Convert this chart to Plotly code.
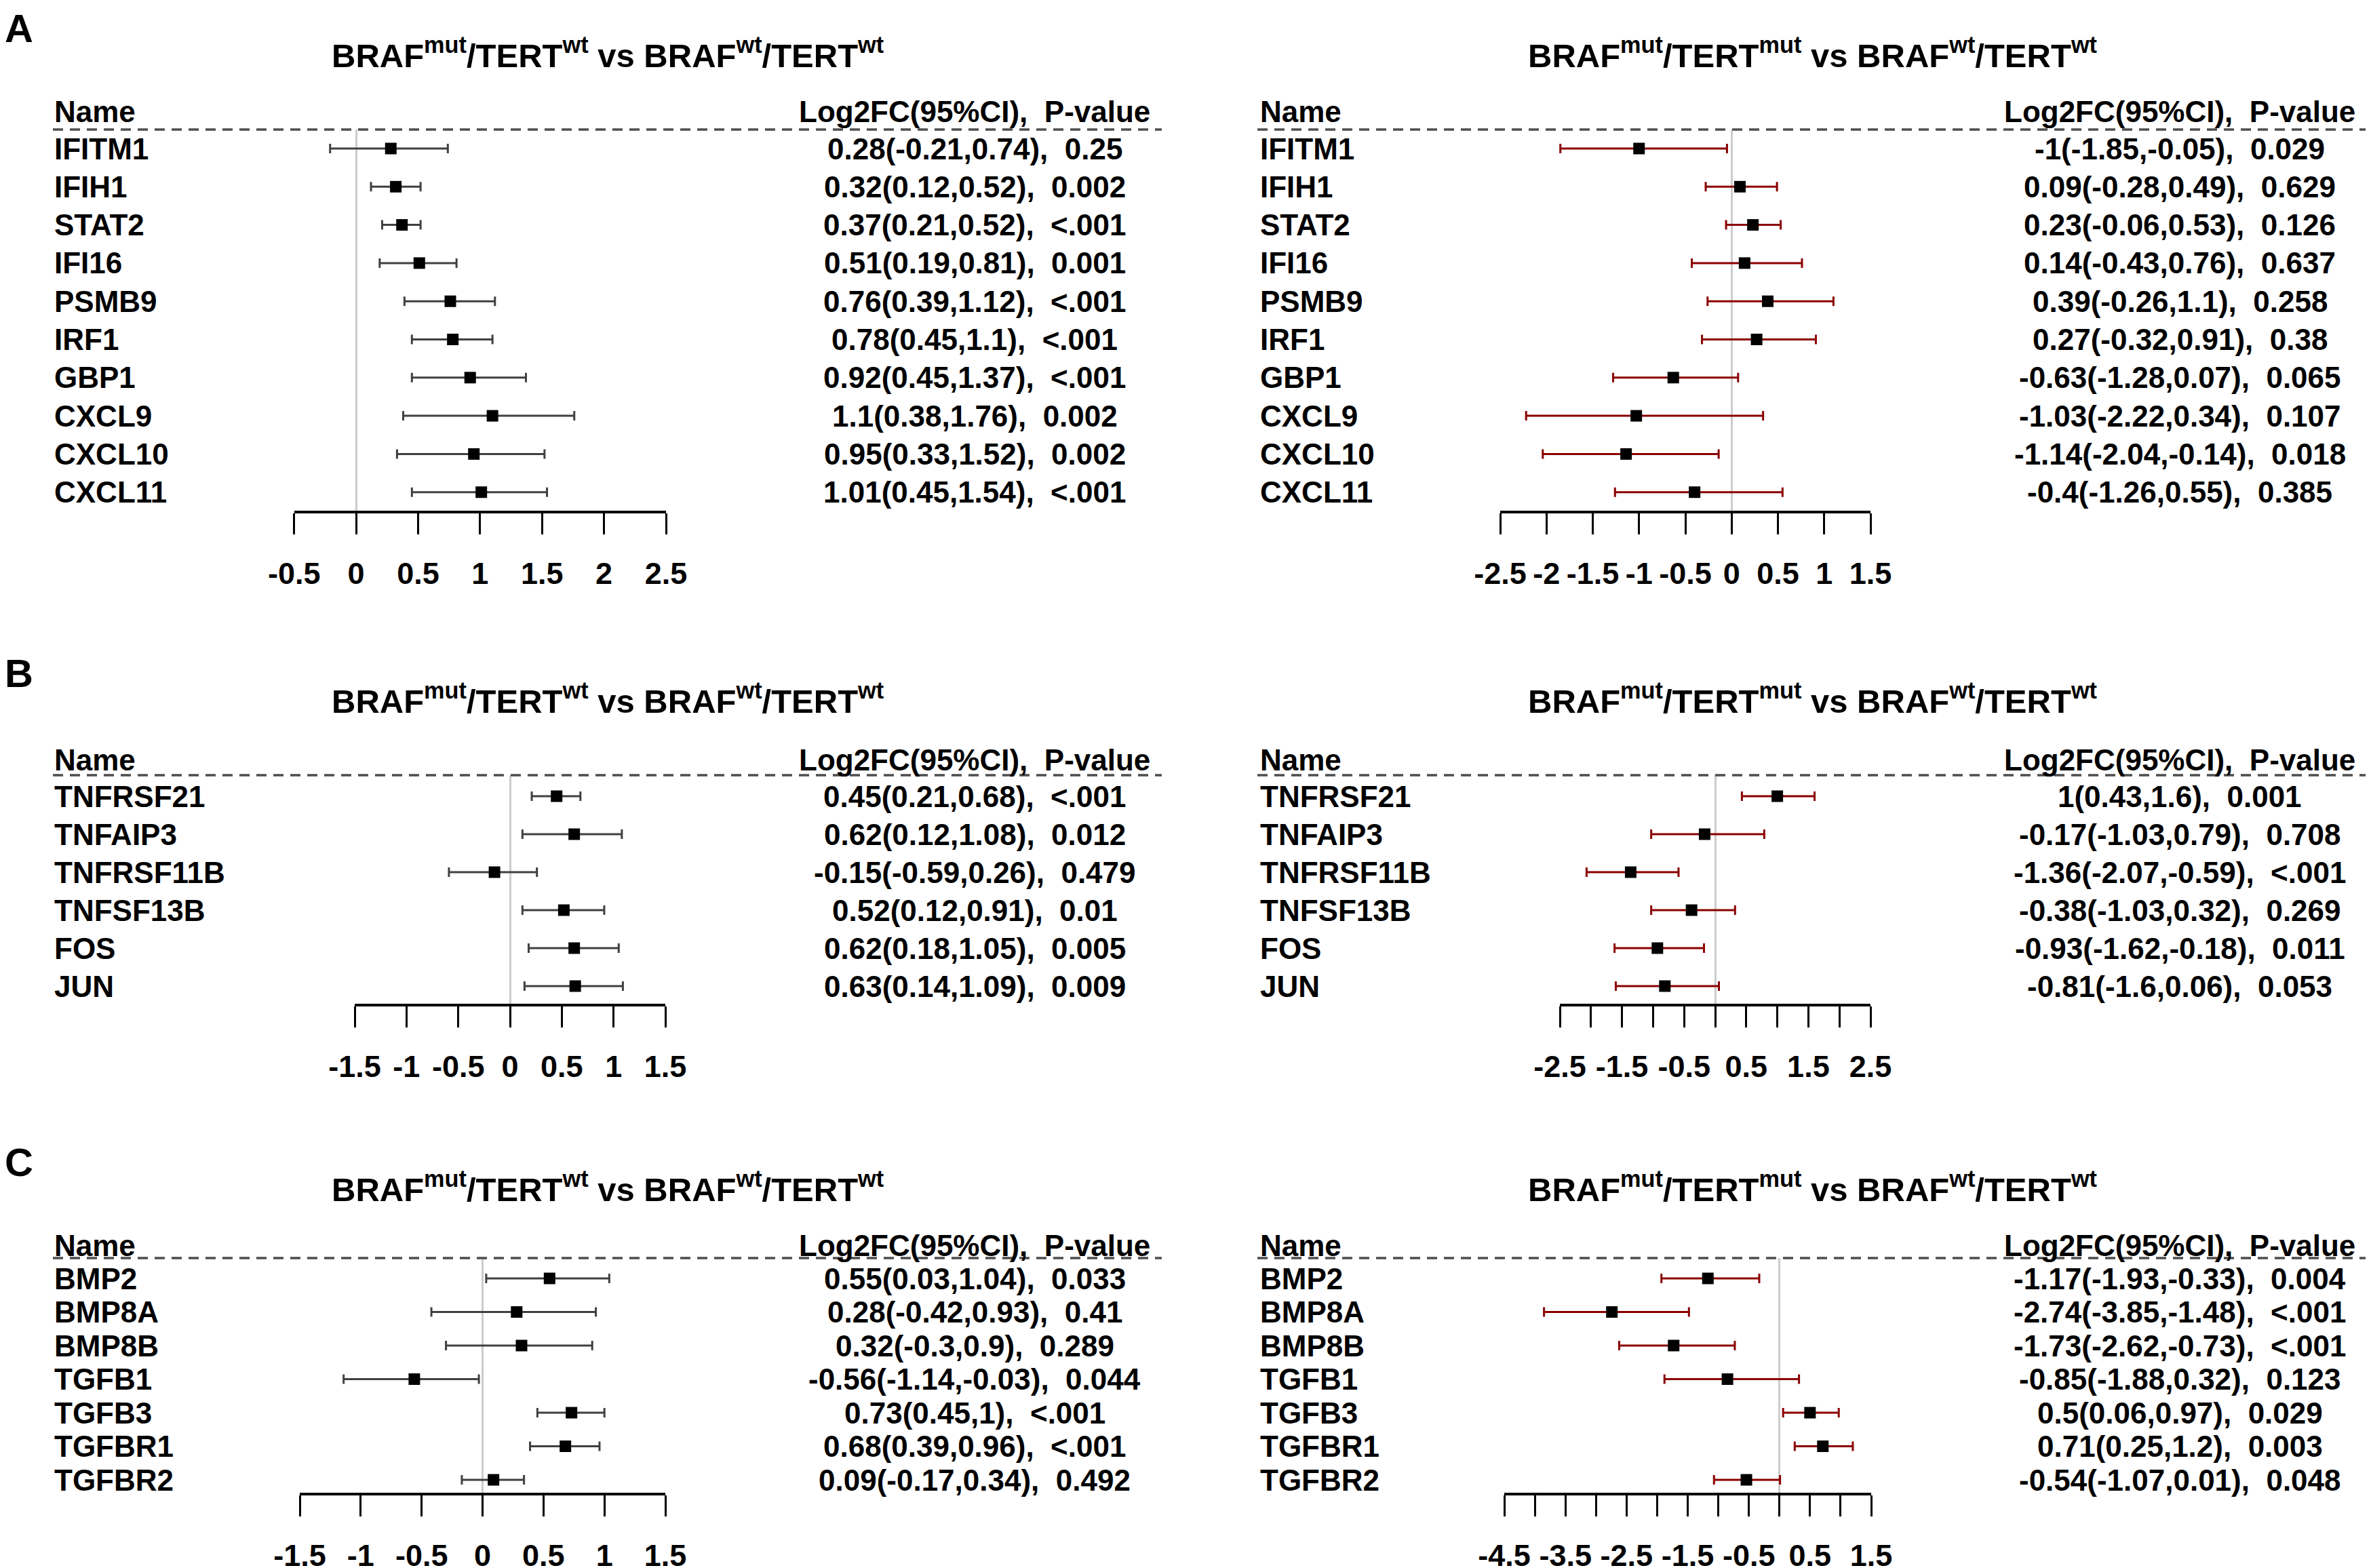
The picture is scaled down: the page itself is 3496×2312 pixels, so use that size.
import plotly.graph_objects as go

W, H = 3496, 2312

# ---------------- data ----------------
a_genes = ["IFITM1", "IFIH1", "STAT2", "IFI16", "PSMB9", "IRF1", "GBP1", "CXCL9", "CXCL10", "CXCL11"]
a1_est = [0.28, 0.32, 0.37, 0.51, 0.76, 0.78, 0.92, 1.1, 0.95, 1.01]
a1_lo = [-0.21, 0.12, 0.21, 0.19, 0.39, 0.45, 0.45, 0.38, 0.33, 0.45]
a1_hi = [0.74, 0.52, 0.52, 0.81, 1.12, 1.1, 1.37, 1.76, 1.52, 1.54]
a1_p = ["0.25", "0.002", "<.001", "0.001", "<.001", "<.001", "<.001", "0.002", "0.002", "<.001"]
a2_est = [-1, 0.09, 0.23, 0.14, 0.39, 0.27, -0.63, -1.03, -1.14, -0.4]
a2_lo = [-1.85, -0.28, -0.06, -0.43, -0.26, -0.32, -1.28, -2.22, -2.04, -1.26]
a2_hi = [-0.05, 0.49, 0.53, 0.76, 1.1, 0.91, 0.07, 0.34, -0.14, 0.55]
a2_p = ["0.029", "0.629", "0.126", "0.637", "0.258", "0.38", "0.065", "0.107", "0.018", "0.385"]

b_genes = ["TNFRSF21", "TNFAIP3", "TNFRSF11B", "TNFSF13B", "FOS", "JUN"]
b1_est = [0.45, 0.62, -0.15, 0.52, 0.62, 0.63]
b1_lo = [0.21, 0.12, -0.59, 0.12, 0.18, 0.14]
b1_hi = [0.68, 1.08, 0.26, 0.91, 1.05, 1.09]
b1_p = ["<.001", "0.012", "0.479", "0.01", "0.005", "0.009"]
b2_est = [1, -0.17, -1.36, -0.38, -0.93, -0.81]
b2_lo = [0.43, -1.03, -2.07, -1.03, -1.62, -1.6]
b2_hi = [1.6, 0.79, -0.59, 0.32, -0.18, 0.06]
b2_p = ["0.001", "0.708", "<.001", "0.269", "0.011", "0.053"]

c_genes = ["BMP2", "BMP8A", "BMP8B", "TGFB1", "TGFB3", "TGFBR1", "TGFBR2"]
c1_est = [0.55, 0.28, 0.32, -0.56, 0.73, 0.68, 0.09]
c1_lo = [0.03, -0.42, -0.3, -1.14, 0.45, 0.39, -0.17]
c1_hi = [1.04, 0.93, 0.9, -0.03, 1, 0.96, 0.34]
c1_p = ["0.033", "0.41", "0.289", "0.044", "<.001", "<.001", "0.492"]
c2_est = [-1.17, -2.74, -1.73, -0.85, 0.5, 0.71, -0.54]
c2_lo = [-1.93, -3.85, -2.62, -1.88, 0.06, 0.25, -1.07]
c2_hi = [-0.33, -1.48, -0.73, 0.32, 0.97, 1.2, 0.01]
c2_p = ["0.004", "<.001", "<.001", "0.123", "0.029", "0.003", "0.048"]

# tick marks (every 0.5) and the labelled subset
a1_ticks = [-0.5, 0, 0.5, 1, 1.5, 2, 2.5]
a1_labelvals = [-0.5, 0, 0.5, 1, 1.5, 2, 2.5]
a1_ticklabels = ["-0.5", "0", "0.5", "1", "1.5", "2", "2.5"]
a2_ticks = [-2.5, -2, -1.5, -1, -0.5, 0, 0.5, 1, 1.5]
a2_labelvals = [-2.5, -2, -1.5, -1, -0.5, 0, 0.5, 1, 1.5]
a2_ticklabels = ["-2.5", "-2", "-1.5", "-1", "-0.5", "0", "0.5", "1", "1.5"]
b1_ticks = [-1.5, -1, -0.5, 0, 0.5, 1, 1.5]
b1_labelvals = [-1.5, -1, -0.5, 0, 0.5, 1, 1.5]
b1_ticklabels = ["-1.5", "-1", "-0.5", "0", "0.5", "1", "1.5"]
b2_ticks = [-2.5, -2, -1.5, -1, -0.5, 0, 0.5, 1, 1.5, 2, 2.5]
b2_labelvals = [-2.5, -1.5, -0.5, 0.5, 1.5, 2.5]
b2_ticklabels = ["-2.5", "-1.5", "-0.5", "0.5", "1.5", "2.5"]
c1_ticks = [-1.5, -1, -0.5, 0, 0.5, 1, 1.5]
c1_labelvals = [-1.5, -1, -0.5, 0, 0.5, 1, 1.5]
c1_ticklabels = ["-1.5", "-1", "-0.5", "0", "0.5", "1", "1.5"]
c2_ticks = [-4.5, -4, -3.5, -3, -2.5, -2, -1.5, -1, -0.5, 0, 0.5, 1, 1.5]
c2_labelvals = [-4.5, -3.5, -2.5, -1.5, -0.5, 0.5, 1.5]
c2_ticklabels = ["-4.5", "-3.5", "-2.5", "-1.5", "-0.5", "0.5", "1.5"]

title_left = "BRAF<sup>mut</sup>/TERT<sup>wt</sup> vs BRAF<sup>wt</sup>/TERT<sup>wt</sup>"
title_right = "BRAF<sup>mut</sup>/TERT<sup>mut</sup> vs BRAF<sup>wt</sup>/TERT<sup>wt</sup>"
panel_letters = ["A", "B", "C"]

# ---------------- layout geometry (pixels of the final picture) ----------------
FONT = "Liberation Sans, Arial, Helvetica, sans-serif"
OFF = 8  # page body margin shifts the figure by this many pixels
rows_geo = [
    dict(letter=28, title=99, header=164, dash=191, row0=219, step=56.3, axis=753),
    dict(letter=993, title=1051, header=1120, dash=1143, row0=1174, step=56.0, axis=1480),
    dict(letter=1714, title=1771, header=1836, dash=1855, row0=1885, step=49.5, axis=2200.5),
]
left_geo = dict(name_x=80, val_x=1437, dash_x0=78, dash_x1=1713, title_x=896)
right_geo = dict(name_x=1858, val_x=3214, dash_x0=1854, dash_x1=3500, title_x=2672)
axis_px = [(433.7, 982), (2212, 2758), (523, 981), (2300, 2758), (442, 981), (2218, 2759)]

panels = [
    (a_genes, a1_est, a1_lo, a1_hi, a1_p, a1_ticks, a1_labelvals, a1_ticklabels),
    (a_genes, a2_est, a2_lo, a2_hi, a2_p, a2_ticks, a2_labelvals, a2_ticklabels),
    (b_genes, b1_est, b1_lo, b1_hi, b1_p, b1_ticks, b1_labelvals, b1_ticklabels),
    (b_genes, b2_est, b2_lo, b2_hi, b2_p, b2_ticks, b2_labelvals, b2_ticklabels),
    (c_genes, c1_est, c1_lo, c1_hi, c1_p, c1_ticks, c1_labelvals, c1_ticklabels),
    (c_genes, c2_est, c2_lo, c2_hi, c2_p, c2_ticks, c2_labelvals, c2_ticklabels),
]


def px_x(v):
    return (v - OFF) / W


def px_y(v):
    return 1 - (v - OFF) / H


def fmt(v):
    return "%g" % v


fig = go.Figure()
annotations = []
shapes = []
layout_axes = {}

TXT = 44
TITLE = 49
LETTER = 58
for k, (genes, est, lo, hi, pv, ticks, labelvals, ticklabels) in enumerate(panels):
    idx = k + 1
    sfx = "" if idx == 1 else str(idx)
    g = rows_geo[k // 2]
    side = left_geo if k % 2 == 0 else right_geo
    n = len(genes)
    ybot = (g["axis"] - g["row0"]) / g["step"]
    ytop = (g["dash"] - g["row0"]) / g["step"]
    ecol = "#404040" if k % 2 == 0 else "#8B0000"
    rows = list(range(n))

    fig.add_trace(go.Scatter(
        x=est, y=rows, mode="markers",
        marker=dict(symbol="square", size=17, color="black", line=dict(width=0)),
        error_x=dict(type="data", symmetric=False,
                     array=[h - e for h, e in zip(hi, est)],
                     arrayminus=[e - l for e, l in zip(est, lo)],
                     color=ecol, thickness=3, width=7),
        xaxis="x" + sfx, yaxis="y" + sfx, showlegend=False, hoverinfo="skip",
    ))

    x0, x1 = axis_px[k]
    layout_axes["xaxis" + sfx] = dict(
        domain=[px_x(x0), px_x(x1)], range=[ticks[0], ticks[-1]], anchor="y" + sfx,
        showgrid=False, zeroline=True, zerolinecolor="#cccccc", zerolinewidth=2.5,
        showline=True, linecolor="black", linewidth=4,
        ticks="outside", ticklen=31, tickwidth=2.5, tickcolor="black",
        tickmode="array", tickvals=labelvals, ticktext=ticklabels, tickangle=0,
        minor=dict(tickmode="array", tickvals=ticks, ticks="outside", ticklen=31,
                   tickwidth=2.5, tickcolor="black", showgrid=False),
        tickfont=dict(size=45, family=FONT, color="black", weight="bold"),
        ticklabelstandoff=19, fixedrange=True, automargin=False,
    )
    layout_axes["yaxis" + sfx] = dict(
        domain=[px_y(g["axis"]), px_y(g["dash"])], range=[ybot, ytop], anchor="x" + sfx,
        visible=False, showgrid=False, zeroline=False, fixedrange=True, automargin=False,
    )

    yref = "y" + sfx
    for i, gname in enumerate(genes):
        annotations.append(dict(
            x=px_x(side["name_x"]), xref="paper", y=i, yref=yref, text=gname,
            xanchor="left", yanchor="middle", showarrow=False,
            font=dict(size=TXT), borderpad=0, borderwidth=0))
        label = "%s(%s,%s),\u00a0\u00a0%s" % (fmt(est[i]), fmt(lo[i]), fmt(hi[i]),
                                             pv[i].replace("<", "&lt;"))
        annotations.append(dict(
            x=px_x(side["val_x"]), xref="paper", y=i, yref=yref, text=label,
            xanchor="center", yanchor="middle", showarrow=False,
            font=dict(size=TXT), borderpad=0, borderwidth=0))

    # header row
    annotations.append(dict(
        x=px_x(side["name_x"]), xref="paper", y=px_y(g["header"]), yref="paper", text="Name",
        xanchor="left", yanchor="middle", showarrow=False, font=dict(size=TXT),
        borderpad=0, borderwidth=0))
    annotations.append(dict(
        x=px_x(side["val_x"]), xref="paper", y=px_y(g["header"]), yref="paper",
        text="Log2FC(95%CI),\u00a0\u00a0P-value",
        xanchor="center", yanchor="middle", showarrow=False, font=dict(size=TXT),
        borderpad=0, borderwidth=0))
    # title
    annotations.append(dict(
        x=px_x(side["title_x"]), xref="paper", y=px_y(g["title"] + 0.212 * TITLE), yref="paper",
        text=title_left if k % 2 == 0 else title_right,
        xanchor="center", yanchor="bottom", showarrow=False, font=dict(size=TITLE),
        borderpad=0, borderwidth=0))
    # dashed header rule
    shapes.append(dict(
        type="line", xref="paper", yref="paper",
        x0=px_x(side["dash_x0"]), x1=px_x(side["dash_x1"]),
        y0=px_y(g["dash"]), y1=px_y(g["dash"]),
        line=dict(color="#4d4d4d", width=3.3, dash="15px,10px")))

for j, letter in enumerate(panel_letters):
    top_px = max(OFF + 0.5, rows_geo[j]["letter"] - 0.575 * LETTER)
    annotations.append(dict(
        x=px_x(7), xref="paper", y=px_y(top_px), yref="paper", text=letter,
        xanchor="left", yanchor="top", showarrow=False, font=dict(size=LETTER),
        borderpad=0, borderwidth=0))

fig.update_layout(
    width=W, height=H, autosize=False,
    margin=dict(l=0, r=0, t=0, b=0, pad=0, autoexpand=False),
    paper_bgcolor="white", plot_bgcolor="white",
    font=dict(family=FONT, color="black", size=TXT, weight="bold"),
    annotations=annotations, shapes=shapes, showlegend=False,
    **layout_axes,
)

fig.write_html("out.html", config={"displayModeBar": False})
